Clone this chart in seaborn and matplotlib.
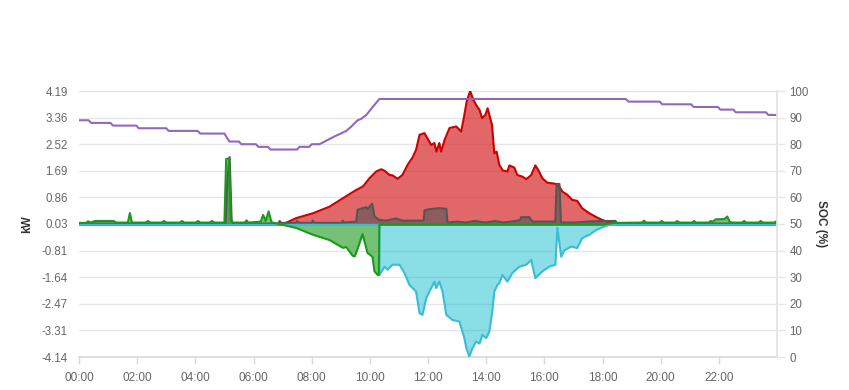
import numpy as np
import pandas as pd
import matplotlib
matplotlib.use("Agg")
import matplotlib.pyplot as plt
import seaborn as sns

# ---------------- data (hours of day, kW / %) ----------------
x_tick_labels = ["00:00", "02:00", "04:00", "06:00", "08:00", "10:00",
                 "12:00", "14:00", "16:00", "18:00", "20:00", "22:00"]
kw_ticks = [4.19, 3.36, 2.52, 1.69, 0.86, 0.03, -0.81, -1.64, -2.47, -3.31, -4.14]
soc_ticks = [0, 10, 20, 30, 40, 50, 60, 70, 80, 90, 100]

pv_t = [0, 6.95, 7.02, 7.47, 8.04, 8.62, 9.07, 9.53, 9.76, 9.99, 10.22, 10.39, 10.51,
        10.68, 10.78, 10.95, 11.12, 11.30, 11.47, 11.59, 11.71, 11.88, 12.11, 12.22,
        12.29, 12.39, 12.45, 12.57, 12.74, 12.97, 13.14, 13.25, 13.33, 13.45, 13.56,
        13.65, 13.77, 13.86, 13.97, 14.05, 14.20, 14.28, 14.36, 14.45, 14.57, 14.73,
        14.80, 14.97, 15.07, 15.24, 15.38, 15.55, 15.69, 15.79, 15.93, 16.10, 16.34,
        16.48, 16.62, 16.79, 16.96, 17.13, 17.30, 17.55, 17.79, 17.99, 18.16, 18.33,
        18.45, 18.50, 24]
pv_v = [0, 0, 0.02, 0.21, 0.36, 0.57, 0.83, 1.09, 1.20, 1.46, 1.67, 1.74, 1.69,
        1.56, 1.55, 1.44, 1.56, 1.88, 2.11, 2.35, 2.82, 2.87, 2.50, 2.56,
        2.29, 2.56, 2.29, 2.66, 3.03, 3.08, 2.92, 3.44, 3.86, 4.19, 3.91,
        3.76, 3.60, 3.34, 3.44, 3.65, 3.13, 2.24, 2.29, 1.88, 1.70, 1.67,
        1.86, 1.79, 1.56, 1.51, 1.43, 1.56, 1.86, 1.72, 1.46, 1.32, 1.29,
        1.25, 1.04, 0.94, 0.78, 0.75, 0.52, 0.36, 0.24, 0.15, 0.10, 0.07,
        0.03, 0, 0]

load_t = [0, 5.04, 5.10, 5.18, 5.25, 5.30, 6.85, 6.90, 6.95, 7.45,
          7.50, 7.55, 8.00, 8.04, 8.10, 9.02, 9.07, 9.12, 9.53, 9.58, 9.75, 9.88,
          9.92, 10.08, 10.16, 10.33, 10.56, 10.91, 11.10, 11.85, 11.88, 12.05, 12.39,
          12.63, 12.67, 13.00, 13.30, 13.60, 14.00, 14.30, 14.60, 15.00, 15.17, 15.20,
          15.48, 15.59, 16.38, 16.42, 16.52, 16.57, 17.00, 17.50, 18.00, 18.45, 18.50, 24]
load_v = [0.04, 0.04, 1.40, 2.12, 0.10, 0.04, 0.04, 0.12, 0.06, 0.06,
          0.12, 0.06, 0.06, 0.13, 0.06, 0.06, 0.13, 0.07, 0.10, 0.47, 0.52, 0.55,
          0.49, 0.66, 0.26, 0.15, 0.13, 0.20, 0.13, 0.13, 0.45, 0.49, 0.52,
          0.50, 0.07, 0.10, 0.07, 0.12, 0.07, 0.12, 0.07, 0.12, 0.15, 0.24,
          0.24, 0.10, 0.10, 1.28, 1.28, 0.07, 0.07, 0.10, 0.12, 0.12, 0.04, 0.04]

batt_t = [0, 0.25, 0.31, 0.40, 0.55, 1.20, 1.27, 1.68, 1.75, 1.82, 2.30, 2.37, 2.45,
          2.85, 2.92, 3.00, 3.47, 3.54, 3.62, 4.02, 4.09, 4.17, 4.50, 4.57, 4.65,
          5.00, 5.06, 5.16, 5.22, 5.30, 5.70, 5.76, 5.82, 6.25, 6.33, 6.42, 6.52,
          6.62, 6.85, 7.00, 7.47, 8.04, 8.62, 9.07, 9.19, 9.41, 9.48, 9.58, 9.75,
          9.92, 10.09, 10.16, 10.27, 10.31, 10.33, 18.00, 18.20, 18.40, 19.35, 19.43,
          19.50, 19.97, 20.04, 20.10, 20.50, 20.57, 20.64, 21.08, 21.15, 21.22, 21.65,
          21.72, 21.80, 21.89, 22.20, 22.29, 22.37, 22.45, 22.80, 22.87, 22.94, 23.37,
          23.44, 23.51, 23.90, 24]
batt_v = [0.06, 0.06, 0.11, 0.07, 0.12, 0.12, 0.07, 0.07, 0.37, 0.07, 0.07, 0.12, 0.07,
          0.07, 0.12, 0.07, 0.07, 0.12, 0.07, 0.07, 0.12, 0.07, 0.07, 0.12, 0.07,
          0.07, 2.06, 2.08, 0.15, 0.07, 0.07, 0.14, 0.07, 0.10, 0.31, 0.12, 0.42,
          0.08, 0.03, 0.0, -0.10, -0.31, -0.48, -0.72, -0.70, -0.97, -0.99, -0.75, -0.29,
          -0.88, -1.00, -1.46, -1.57, -1.57, 0.0, 0.0, 0.03, 0.06, 0.07, 0.13,
          0.07, 0.07, 0.12, 0.07, 0.07, 0.12, 0.07, 0.07, 0.12, 0.07, 0.07,
          0.12, 0.10, 0.17, 0.18, 0.26, 0.10, 0.07, 0.07, 0.12, 0.07, 0.07,
          0.12, 0.07, 0.07, 0.12]

grid_t = [0, 10.32, 10.33, 10.51, 10.61, 10.78, 11.02, 11.19, 11.36, 11.59, 11.71, 11.81,
          11.94, 12.11, 12.22, 12.28, 12.39, 12.50, 12.63, 12.84, 13.08, 13.25, 13.32,
          13.42, 13.53, 13.65, 13.77, 13.87, 14.00, 14.11, 14.21, 14.28, 14.39, 14.45,
          14.56, 14.73, 14.90, 15.14, 15.38, 15.55, 15.69, 15.93, 16.17, 16.38, 16.45,
          16.58, 16.69, 16.93, 17.13, 17.30, 17.55, 17.79, 17.99, 18.23, 24]
grid_v = [0, 0, -1.57, -1.31, -1.41, -1.25, -1.25, -1.51, -1.88, -2.09, -2.77, -2.82,
          -2.30, -1.98, -1.78, -1.98, -1.78, -2.09, -2.82, -2.98, -3.03, -3.55, -3.86,
          -4.13, -3.86, -3.66, -3.72, -3.45, -3.55, -3.34, -2.72, -2.09, -1.88, -1.83,
          -1.57, -1.78, -1.51, -1.31, -1.25, -1.10, -1.67, -1.46, -1.31, -1.25, -0.10,
          -1.00, -0.80, -0.68, -0.73, -0.42, -0.31, -0.16, -0.08, 0, 0]

soc_t = [0, 0.33, 0.42, 1.08, 1.17, 1.97, 2.05, 3.00, 3.08, 4.08, 4.17, 5.00, 5.17,
         5.50, 5.58, 6.08, 6.17, 6.50, 6.58, 7.50, 7.58, 7.92, 8.00, 8.27, 8.45, 8.62,
         8.80, 9.00, 9.19, 9.35, 9.58, 9.70, 9.88, 10.10, 10.33, 18.80, 18.90, 19.97,
         20.05, 21.05, 21.13, 21.97, 22.05, 22.50, 22.58, 23.62, 23.70, 24]
soc_v = [89, 89, 88, 88, 87, 87, 86, 86, 85, 85, 84, 84, 81,
         81, 80, 80, 79, 79, 78, 78, 79, 79, 80, 80, 81, 82,
         83, 84, 85, 86.5, 89, 89.5, 91, 94, 97, 97, 96, 96,
         95, 95, 94, 94, 93, 93, 92, 92, 91, 91]

# ---------------- style ----------------
sns.set_theme(style="white")
plt.rcParams["font.family"] = ["Liberation Sans", "DejaVu Sans"]

fig = plt.figure(figsize=(8.49, 3.90), dpi=100)
ax = fig.add_axes([79 / 849, 1 - 357 / 390, (777 - 79) / 849, (357 - 91) / 390])

series = [
    ("pv", pv_t, pv_v, "#d62728", 0.70, "#cc0000"),
    ("load", load_t, load_v, "#555555", 0.60, "#555555"),
    ("grid", grid_t, grid_v, "#17becf", 0.50, "#3bbcd6"),
    ("batt", batt_t, batt_v, "#2ca02c", 0.65, "#1a9a1a"),
]
for name, tt, vv, fc, a, lc in series:
    df = pd.DataFrame({"t": tt, "v": vv})
    ax.fill_between(df["t"], 0, df["v"], color=fc, alpha=a, linewidth=0, zorder=2)
    sns.lineplot(data=df, x="t", y="v", ax=ax, color=lc, linewidth=1.5,
                 zorder=3, estimator=None, sort=False)

ax.set_xlim(0, 24)
ax.set_ylim(-4.14, 4.19)
ax.set_yticks(kw_ticks)
ax.set_yticklabels([f"{v:.2f}" for v in kw_ticks])
ax.set_xticks(np.arange(0, 24, 2))
ax.set_xticklabels(x_tick_labels)
ax.grid(axis="y", color="#e6e6e6", linewidth=1)
ax.set_axisbelow(True)
for s in ["left", "top"]:
    ax.spines[s].set_visible(False)
ax.spines["bottom"].set_color("#d8d8d8")
ax.spines["bottom"].set_linewidth(1.2)
ax.spines["right"].set_color("#e6e6e6")
ax.tick_params(axis="x", colors="#d8d8d8", length=5, width=1, labelcolor="#666666",
               labelsize=8.5, pad=6, bottom=True, direction="out")
ax.tick_params(axis="y", length=0, labelcolor="#666666", labelsize=8.3, pad=8)
ax.set_xlabel("")
ax.set_ylabel("kW", fontsize=8.5, fontweight="bold", color="#333333", labelpad=6)

ax2 = ax.twinx()
df_soc = pd.DataFrame({"t": soc_t, "soc": soc_v})
sns.lineplot(data=df_soc, x="t", y="soc", ax=ax2, color="#9467bd", linewidth=1.5,
             estimator=None, sort=False)
ax2.set_ylim(0, 100)
ax2.set_xlim(0, 24)
ax2.set_yticks(soc_ticks)
ax2.set_yticklabels([str(v) for v in soc_ticks])
for s in ["left", "top", "bottom"]:
    ax2.spines[s].set_visible(False)
ax2.spines["right"].set_color("#e6e6e6")
ax2.tick_params(axis="y", colors="#e6e6e6", length=6, width=1, labelcolor="#666666",
                labelsize=8.3, pad=3, right=True, direction="out")
ax2.set_xlabel("")
ax2.set_ylabel("SOC (%)", fontsize=8.5, fontweight="bold", color="#333333",
               rotation=270, labelpad=13)
ax2.grid(False)

fig.savefig("out.png", dpi=100, facecolor="white")
